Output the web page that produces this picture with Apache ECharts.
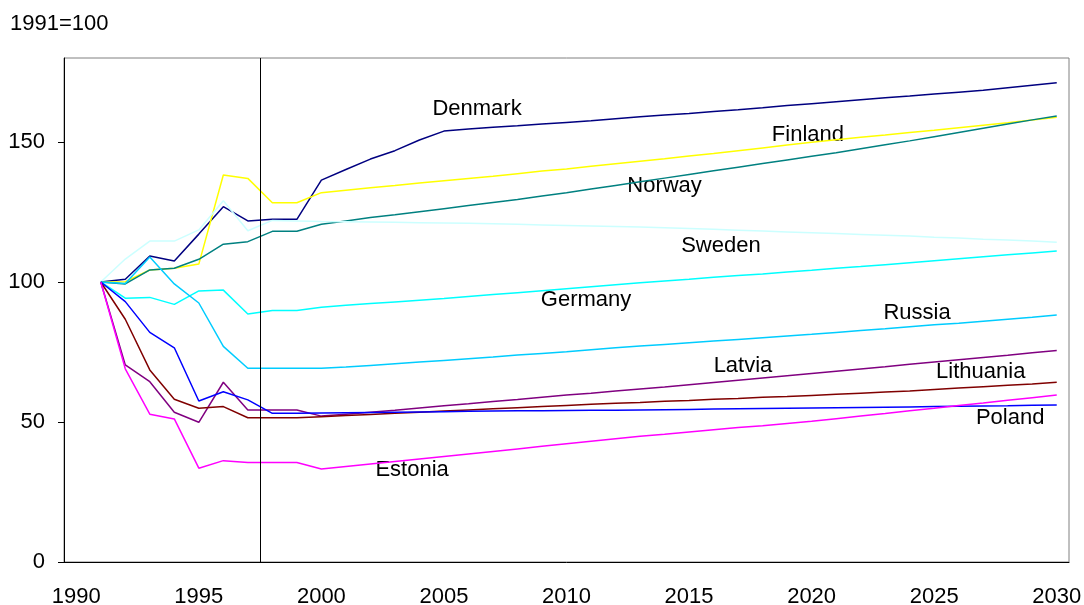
<!DOCTYPE html>
<html>
<head>
<meta charset="utf-8">
<script src="https://cdn.jsdelivr.net/npm/echarts@6/dist/echarts.min.js"></script>
<style>
  html, body { margin: 0; padding: 0; background: #fff; }
  #chart { width: 1084px; height: 605px; }
</style>
</head>
<body>
<div id="chart"></div>
<script>
  // years 1990..2030, category axis
  const years = [];
  for (let y = 1990; y <= 2030; y++) years.push(String(y));

  // 1991=100 index, 1990 has no value
  const denmark = [null, 100, 101, 109.3, 107.5, 117.1, 126.9, 121.8, 122.4, 122.4,
    136.4, 140.2, 143.9, 146.9, 150.7, 153.9, 154.6, 155.3, 155.8, 156.4,
    157.0, 157.6, 158.3, 159.0, 159.6, 160.2, 160.9, 161.5, 162.2, 163.0,
    163.7, 164.4, 165.1, 165.8, 166.4, 167.1, 167.8, 168.5, 169.4, 170.3, 171.2];
  const finland = [null, 100, 100.1, 104.3, 104.9, 106.4, 138.2, 137.0, 128.3, 128.3,
    131.9, 132.8, 133.7, 134.5, 135.4, 136.2, 137.0, 137.8, 138.7, 139.6,
    140.4, 141.3, 142.2, 143.1, 144.0, 145.0, 145.9, 146.9, 147.9, 148.9,
    149.9, 150.8, 151.7, 152.5, 153.4, 154.2, 155.1, 156.0, 156.9, 157.9, 158.8];
  const norway = [null, 100, 99.3, 104.3, 104.9, 108.1, 113.5, 114.4, 118.1, 118.1,
    120.6, 121.8, 123.0, 124.0, 125.1, 126.2, 127.3, 128.4, 129.5, 130.7,
    131.9, 133.2, 134.5, 135.8, 137.1, 138.4, 139.7, 141.0, 142.3, 143.6,
    144.9, 146.2, 147.6, 149.0, 150.4, 151.9, 153.4, 154.9, 156.4, 157.9, 159.3];
  const sweden = [null, 100, 108.2, 114.6, 114.6, 118.6, 129.0, 118.3, 122.0, 121.8,
    121.6, 121.5, 121.4, 121.3, 121.2, 121.1, 121.0, 120.8, 120.6, 120.4,
    120.2, 120.0, 119.8, 119.6, 119.4, 119.1, 118.8, 118.5, 118.2, 117.9,
    117.6, 117.3, 117.0, 116.7, 116.4, 116.0, 115.7, 115.3, 115.0, 114.6, 114.2];
  const germany = [null, 100, 94.2, 94.5, 92.0, 96.8, 97.1, 88.6, 89.8, 89.8,
    91.0, 91.7, 92.3, 92.9, 93.5, 94.1, 94.8, 95.5, 96.2, 96.9,
    97.6, 98.3, 99.0, 99.7, 100.4, 101.0, 101.7, 102.3, 102.9, 103.6,
    104.2, 104.9, 105.5, 106.2, 106.9, 107.6, 108.3, 109.0, 109.7, 110.4, 111.1];
  const russia = [null, 100, 99.5, 108.9, 99.3, 92.5, 77.0, 69.2, 69.2, 69.2,
    69.2, 69.6, 70.2, 70.8, 71.4, 72.0, 72.6, 73.2, 73.9, 74.5,
    75.1, 75.8, 76.5, 77.1, 77.7, 78.3, 78.9, 79.5, 80.1, 80.7,
    81.3, 82.0, 82.7, 83.3, 84.0, 84.7, 85.3, 86.0, 86.7, 87.4, 88.2];
  const latvia = [null, 100, 70.4, 64.4, 53.5, 49.9, 64.2, 54.3, 54.3, 54.3,
    52.1, 52.8, 53.5, 54.2, 55.0, 55.8, 56.5, 57.3, 58.0, 58.8,
    59.6, 60.3, 61.1, 61.8, 62.5, 63.3, 64.1, 64.9, 65.7, 66.5,
    67.3, 68.1, 68.9, 69.7, 70.6, 71.4, 72.2, 73.0, 73.8, 74.7, 75.5];
  const lithuania = [null, 100, 86.7, 68.6, 58.1, 54.9, 55.5, 51.5, 51.5, 51.5,
    51.9, 52.3, 52.7, 53.1, 53.5, 53.9, 54.3, 54.7, 55.1, 55.5,
    55.9, 56.3, 56.7, 57.0, 57.4, 57.7, 58.1, 58.4, 58.8, 59.1,
    59.5, 59.9, 60.3, 60.7, 61.1, 61.6, 62.1, 62.6, 63.1, 63.6, 64.2];
  const poland = [null, 100, 93.0, 82.0, 76.5, 57.5, 60.8, 57.9, 53.1, 53.1,
    53.2, 53.3, 53.4, 53.5, 53.6, 53.7, 53.8, 53.9, 54.0, 54.0,
    54.1, 54.2, 54.2, 54.3, 54.4, 54.5, 54.6, 54.7, 54.8, 54.9,
    55.0, 55.1, 55.2, 55.3, 55.4, 55.5, 55.6, 55.7, 55.8, 56.0, 56.1];
  const estonia = [null, 100, 69.0, 52.8, 51.1, 33.5, 36.2, 35.5, 35.5, 35.5,
    33.2, 34.1, 35.0, 35.9, 36.8, 37.7, 38.6, 39.5, 40.4, 41.3,
    42.2, 43.1, 44.0, 44.9, 45.6, 46.4, 47.2, 48.0, 48.7, 49.5,
    50.3, 51.2, 52.1, 53.0, 54.0, 54.9, 55.9, 56.8, 57.8, 58.7, 59.6];

  // text labels placed in data space (year scale, index value)
  const labelNames = ['Denmark', 'Finland', 'Norway', 'Sweden', 'Germany', 'Russia', 'Latvia', 'Lithuania', 'Poland', 'Estonia'];
  const labelX = [2006.85, 2020.35, 2014.5, 2016.8, 2011.3, 2024.8, 2017.7, 2027.4, 2028.6, 2004.2];
  const labelY = [161.8, 152.6, 134.4, 112.8, 93.5, 88.9, 70.2, 68.0, 51.3, 33.0];

  // start of projection period
  const splitYear = 1998;

  const FONT = "'Liberation Sans', Arial, sans-serif";

  const lines = [
    ['Denmark', denmark, '#000080'],
    ['Finland', finland, '#FFFF00'],
    ['Norway', norway, '#008080'],
    ['Sweden', sweden, '#CCFFFF'],
    ['Germany', germany, '#00FFFF'],
    ['Russia', russia, '#00CCFF'],
    ['Latvia', latvia, '#800080'],
    ['Lithuania', lithuania, '#800000'],
    ['Poland', poland, '#0000FF'],
    ['Estonia', estonia, '#FF00FF']
  ];

  let series = lines.map(l => ({
    name: l[0],
    type: 'line',
    data: l[1],
    xAxisIndex: 0,
    symbol: 'none',
    lineStyle: { color: l[2], width: 1.5 },
    itemStyle: { color: l[2] },
    animation: false
  }));

  series.push({
    type: 'scatter',
    xAxisIndex: 1,
    symbolSize: 0,
    itemStyle: { color: '#000', opacity: 1 },
    label: {
      show: true,
      position: 'inside',
      formatter: '{b}',
      color: '#000',
      opacity: 1,
      textBorderWidth: 0,
      fontSize: 22,
      fontFamily: FONT
    },
    data: labelNames.map((n, i) => ({ name: n, value: [labelX[i], labelY[i]] })),
    markLine: {
      silent: true,
      symbol: 'none',
      label: { show: false },
      lineStyle: { color: '#000', width: 1, type: 'solid' },
      data: [{ xAxis: splitYear }]
    },
    animation: false
  });

  const chart = echarts.init(document.getElementById('chart'));
  chart.setOption({
    backgroundColor: '#fff',
    animation: false,
    title: {
      text: '1991=100',
      left: 10,
      top: 13,
      padding: 0,
      textStyle: { fontSize: 22, fontWeight: 'normal', color: '#000', fontFamily: FONT }
    },
    grid: {
      left: 64, right: 15, top: 58, bottom: 43,
      outerBoundsMode: 'none',
      show: true, borderColor: '#808080', borderWidth: 1
    },
    xAxis: [{
      type: 'category',
      data: years,
      boundaryGap: true,
      axisLine: { lineStyle: { color: '#000', width: 1 } },
      axisTick: { interval: 0, length: 7, lineStyle: { color: '#000' } },
      axisLabel: { interval: 4, margin: 24, fontSize: 22, color: '#000', fontFamily: FONT },
      splitLine: { show: false }
    }, {
      type: 'value',
      min: 1990,
      max: 2031,
      show: false
    }],
    yAxis: {
      type: 'value',
      min: 0,
      max: 180,
      interval: 50,
      axisLine: { show: true, lineStyle: { color: '#000', width: 1 } },
      axisTick: { show: true, length: 6, lineStyle: { color: '#000' } },
      axisLabel: { showMaxLabel: false, margin: 19, fontSize: 22, color: '#000', fontFamily: FONT },
      splitLine: { show: false }
    },
    series: series
  });
</script>
</body>
</html>
